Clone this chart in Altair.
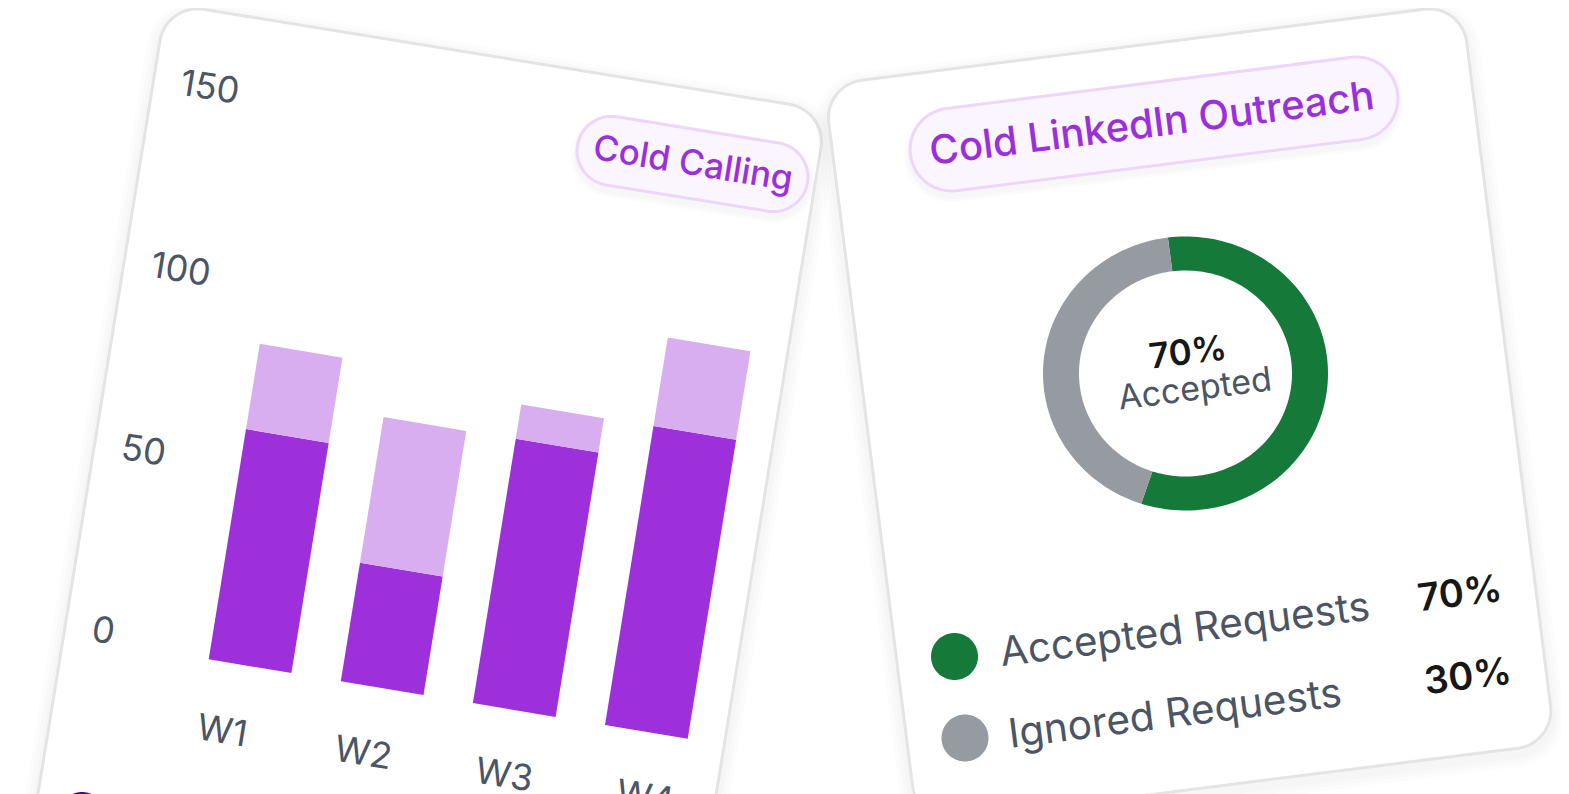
import math
import pandas as pd
import altair as alt

# --- chart values ---
WEEKS = ['W1', 'W2', 'W3', 'W4']
SOLID_VALUES = [63.2, 32.5, 72.6, 82.1]
LIGHT_VALUES = [23.4, 40, 9.4, 24.3]
Y_TICKS = [0, 50, 100, 150]
DONUT_LABELS = ['Accepted', 'Ignored']
DONUT_SHARES = [57, 43]  # share of the ring as drawn
LEGEND_LABELS = ['Accepted Requests', 'Ignored Requests']
LEGEND_VALUES = ['70%', '30%']

PURPLE = '#9e30dc'
PURPLE_LIGHT = '#d8aef0'
GREEN = '#15793a'
GREY = '#969ba2'
TEXT_GREY = '#4b5563'
TEXT_DARK = '#171717'
PILL_FILL = '#faf5ff'
PILL_STROKE = '#ecd6fb'
PILL_TEXT = '#9a30dc'
FONT = 'Inter'

W, H = 1553, 786
sx = alt.Scale(domain=[8, 8 + W], range=[0, W], nice=False, zero=False)
sy = alt.Scale(domain=[8, 8 + H], range=[0, H], nice=False, zero=False)


def frame(deg):
    t = math.radians(deg)
    return (math.cos(t), math.sin(t)), (-math.sin(t), math.cos(t))


def rounded(tl, w, h, r, deg):
    # outline of a rotated rounded rectangle
    u, d = frame(deg)
    pts = []
    corners = [(w - r, r, -90), (w - r, h - r, 0), (r, h - r, 90), (r, r, 180)]
    for cx, cy, start in corners:
        for k in range(25):
            a = math.radians(start + 90 * k / 24)
            lx, ly = cx + r * math.cos(a), cy + r * math.sin(a)
            pts.append((tl[0] + lx * u[0] + ly * d[0], tl[1] + lx * u[1] + ly * d[1]))
    pts.append(pts[0])
    return pts


def centred(c, w, h, r, deg):
    u, d = frame(deg)
    tl = (c[0] - u[0] * w / 2 - d[0] * h / 2, c[1] - u[1] * w / 2 - d[1] * h / 2)
    return rounded(tl, w, h, r, deg)


def shape(pts, fill=None, stroke=None, sw=0, opacity=1, dy=0):
    df = pd.DataFrame({'x': [p[0] for p in pts], 'y': [p[1] + dy for p in pts], 'i': range(len(pts))})
    props = dict(clip=True, strokeWidth=sw, opacity=opacity, strokeJoin='round')
    props['fill'] = fill if fill else 'transparent'
    props['stroke'] = stroke if stroke else 'transparent'
    return alt.Chart(df).mark_line(**props).encode(
        x=alt.X('x:Q', scale=sx, axis=None),
        y=alt.Y('y:Q', scale=sy, axis=None),
        order='i:Q'
    )


def label(text, x, y, size, color, deg, weight=400, align='center'):
    df = pd.DataFrame({'x': [x], 'y': [y], 't': [text]})
    return alt.Chart(df).mark_text(
        clip=True, font=FONT, fontSize=size, fontWeight=weight, color=color,
        angle=deg % 360, align=align, baseline='middle'
    ).encode(
        x=alt.X('x:Q', scale=sx, axis=None),
        y=alt.Y('y:Q', scale=sy, axis=None),
        text='t:N'
    )


def card(tl, w, h, r, deg):
    pts = rounded(tl, w, h, r, deg)
    out = [shape(pts, stroke='#000000', sw=s, opacity=0.008, dy=5) for s in (26, 18, 10)]
    out.append(shape(pts, fill='#ffffff', stroke='#e4e4e4', sw=3))
    return out


def pill(c, w, h, deg):
    pts = centred(c, w, h, h / 2, deg)
    out = [shape(pts, stroke='#000000', sw=s, opacity=0.012, dy=5) for s in (12, 6)]
    out.append(shape(pts, fill=PILL_FILL, stroke=PILL_STROKE, sw=3))
    return out


layers = []

# --- left card: stacked bars ---
LEFT = 9.2
UNIT = 3.69  # px per value unit
layers += card((166, 3.3), 669.6, 900, 38, LEFT)
layers += pill((692.5, 164), 233, 69, LEFT)
layers.append(label('Cold Calling', 693, 164, 35, PILL_TEXT, LEFT, weight=500))

u, d = frame(LEFT)
rows = []
for n, (week, solid, light) in enumerate(zip(WEEKS, SOLID_VALUES, LIGHT_VALUES)):
    bx = 208.7 + n * 132.1
    by = 659.3 + n * 21.9
    for series, lo, hi in (('solid', 0, solid), ('light', solid, solid + light)):
        for i, (a, b) in enumerate([(0, lo), (1, lo), (1, hi), (0, hi), (0, lo)]):
            rows.append({'week': week, 'series': series, 'i': i,
                         'x': bx + a * 82.7 - b * UNIT * d[0],
                         'y': by + a * 13.8 - b * UNIT * d[1]})
bars = alt.Chart(pd.DataFrame(rows)).mark_line(clip=True, strokeWidth=0).encode(
    x=alt.X('x:Q', scale=sx, axis=None),
    y=alt.Y('y:Q', scale=sy, axis=None),
    fill=alt.Fill('series:N', scale=alt.Scale(domain=['solid', 'light'], range=[PURPLE, PURPLE_LIGHT]), legend=None),
    detail='week:N',
    order='i:Q'
)
layers.append(bars)

for tick in Y_TICKS:
    layers.append(label(str(tick), 92 - tick * UNIT * d[0], 630 - tick * UNIT * d[1], 36, TEXT_GREY, LEFT, align='left'))
for n, week in enumerate(WEEKS):
    layers.append(label(week, 222 + n * 141, 732 + n * 22, 36, TEXT_GREY, LEFT))

# legend dot of the left card, almost out of the frame
layers.append(shape(centred((82, 815.5), 47, 47, 23.5, 0), fill='#4b0c7e'))

# --- right card: donut ---
RIGHT = -7.2
layers += card((824, 85), 643, 745, 38, RIGHT)
layers += pill((1154, 124), 491, 82.8, RIGHT)
layers.append(label('Cold LinkedIn Outreach', 1152, 125, 40, PILL_TEXT, RIGHT, weight=500))

CX, CY = 1185.5, 373.5
start = -7.1
for share, colour in zip(DONUT_SHARES, [GREEN, GREY]):
    sweep = share * 3.6
    ring = []
    steps = 120
    for k in range(steps + 1):
        a = math.radians(start + sweep * k / steps)
        ring.append((CX + 142.5 * math.sin(a), CY - 137 * math.cos(a)))
    for k in range(steps, -1, -1):
        a = math.radians(start + sweep * k / steps)
        ring.append((CX + 106.5 * math.sin(a), CY - 103 * math.cos(a)))
    ring.append(ring[0])
    layers.append(shape(ring, fill=colour))
    start += sweep

layers.append(label(LEGEND_VALUES[0], 1188, 353, 35, TEXT_DARK, RIGHT, weight=600))
layers.append(label(DONUT_LABELS[0], 1195, 390, 34, TEXT_GREY, RIGHT))

dots = [(954.5, 656.5), (965, 738)]
names = [(1185, 631), (1175, 715)]
nums = [(1460, 595), (1468, 678)]
for n, colour in enumerate([GREEN, GREY]):
    layers.append(shape(centred(dots[n], 47, 47, 23.5, 0), fill=colour))
    layers.append(label(LEGEND_LABELS[n], names[n][0], names[n][1], 40.5, TEXT_GREY, RIGHT))
    layers.append(label(LEGEND_VALUES[n], nums[n][0], nums[n][1], 38, TEXT_DARK, RIGHT, weight=600))

chart = alt.layer(*layers).properties(
    width=W, height=H, padding=0, background='#ffffff',
    autosize=alt.AutoSizeParams(type='none')
).configure_view(stroke=None)

chart.save("out.html", embed_options={"renderer": "svg", "actions": False})
